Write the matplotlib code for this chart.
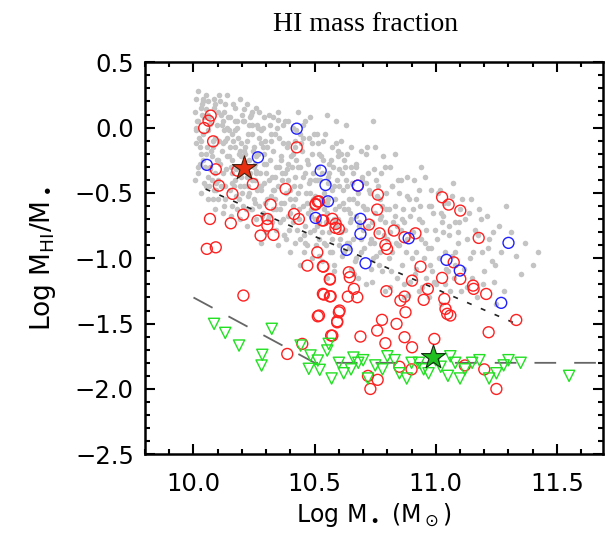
import matplotlib
matplotlib.use("Agg")
import matplotlib.pyplot as plt
from matplotlib.ticker import MultipleLocator

# -------------------------------
# Data
# -------------------------------
gray_x = [10.01, 10.03, 10.02, 10.04, 10.01, 10.05, 10.06, 10.03, 10.07, 10.02, 10.05, 10.08, 10.06, 10.09, 10.08, 10.04, 10.10, 10.09, 10.07, 10.10, 10.03, 10.06, 10.09, 10.02,
          10.11, 10.12, 10.13, 10.14, 10.12, 10.15, 10.16, 10.17, 10.18, 10.19, 10.15, 10.13, 10.17, 10.19, 10.11, 10.16, 10.18, 10.14, 10.20, 10.20, 10.12, 10.17, 10.19, 10.16,
          10.21, 10.22, 10.23, 10.24, 10.25, 10.26, 10.27, 10.28, 10.29, 10.22, 10.24, 10.26, 10.28, 10.30, 10.21, 10.23, 10.25, 10.27, 10.29, 10.30, 10.22, 10.26, 10.28, 10.24,
          10.31, 10.32, 10.33, 10.34, 10.35, 10.36, 10.37, 10.38, 10.39, 10.31, 10.33, 10.35, 10.37, 10.39, 10.32, 10.34, 10.36, 10.38, 10.40, 10.40, 10.35, 10.33, 10.37, 10.39,
          10.41, 10.42, 10.43, 10.44, 10.45, 10.46, 10.47, 10.48, 10.49, 10.42, 10.44, 10.46, 10.48, 10.50, 10.43, 10.45, 10.47, 10.49, 10.41, 10.50, 10.46, 10.44, 10.48, 10.42,
          10.51, 10.52, 10.53, 10.54, 10.55, 10.56, 10.57, 10.58, 10.59, 10.52, 10.54, 10.56, 10.58, 10.60, 10.51, 10.53, 10.55, 10.57, 10.59, 10.60, 10.55,
          10.61, 10.62, 10.63, 10.64, 10.65, 10.66, 10.67, 10.68, 10.69, 10.62, 10.64, 10.66, 10.68, 10.70, 10.61, 10.63, 10.65, 10.67, 10.69, 10.70,
          10.71, 10.72, 10.73, 10.74, 10.75, 10.76, 10.77, 10.78, 10.79, 10.72, 10.74, 10.76, 10.78, 10.80, 10.71, 10.73, 10.75, 10.79, 10.77,
          10.81, 10.82, 10.83, 10.84, 10.85, 10.86, 10.87, 10.88, 10.89, 10.82, 10.84, 10.86, 10.88, 10.90, 10.83, 10.87, 10.85,
          10.91, 10.92, 10.93, 10.94, 10.95, 10.96, 10.97, 10.98, 10.99, 10.92, 10.94, 10.96, 10.98, 11.00, 10.93, 10.97,
          11.01, 11.02, 11.03, 11.04, 11.05, 11.06, 11.07, 11.08, 11.09, 11.02, 11.05, 11.08, 11.10, 11.04,
          11.11, 11.12, 11.13, 11.14, 11.15, 11.16, 11.17, 11.18, 11.19, 11.13, 11.20,
          11.21, 11.22, 11.23, 11.24, 11.26, 11.27, 11.28, 11.29, 11.25,
          11.31, 11.33, 11.35, 11.37, 11.40, 11.42,
          10.015, 10.025, 10.035, 10.045, 10.055, 10.065, 10.075, 10.085, 10.095, 10.105, 10.115, 10.125, 10.135, 10.145, 10.155, 10.165, 10.175, 10.185, 10.195, 10.205,
          10.018, 10.038, 10.058, 10.078, 10.098, 10.118, 10.138, 10.158, 10.178, 10.198, 10.012, 10.032, 10.052, 10.072, 10.092, 10.112, 10.132, 10.152, 10.172, 10.192,
          10.215, 10.225, 10.235, 10.245, 10.255, 10.265, 10.275, 10.285, 10.295, 10.305, 10.315, 10.325, 10.335, 10.345, 10.355, 10.365, 10.375, 10.385, 10.395, 10.405,
          10.212, 10.232, 10.252, 10.272, 10.292, 10.312, 10.332, 10.352, 10.372, 10.392, 10.218, 10.238, 10.258, 10.278, 10.298, 10.318, 10.338, 10.358, 10.378, 10.398,
          10.415, 10.425, 10.435, 10.445, 10.455, 10.465, 10.475, 10.485, 10.495, 10.505, 10.515, 10.525, 10.535, 10.545, 10.555, 10.565, 10.575, 10.585, 10.595, 10.605,
          10.412, 10.432, 10.452, 10.472, 10.492, 10.512, 10.532, 10.552, 10.572, 10.592, 10.418, 10.438, 10.458, 10.478, 10.498, 10.518, 10.538, 10.558, 10.578, 10.598,
          10.615, 10.625, 10.635, 10.645, 10.655, 10.665, 10.675, 10.685, 10.695, 10.705, 10.715, 10.725, 10.735, 10.745, 10.755, 10.765, 10.775, 10.785, 10.795, 10.805,
          10.815, 10.825, 10.835, 10.845, 10.612, 10.632, 10.652, 10.672, 10.692, 10.712, 10.732, 10.752, 10.772, 10.792, 10.812,
          10.855, 10.875, 10.895, 10.915, 10.935, 10.955, 10.975, 10.995, 11.015, 11.035, 11.055, 11.075, 11.095, 11.115, 11.135, 11.155, 11.175, 11.195, 11.215, 11.235,
          10.865, 10.905, 10.945, 10.985, 11.025, 11.065, 11.105, 11.145, 11.185, 11.245,
          10.008, 10.022, 10.041, 10.053, 10.067, 10.083, 10.094, 10.107, 10.121, 10.128, 10.142, 10.153, 10.169, 10.181, 10.196, 10.207, 10.219, 10.227, 10.241, 10.253, 10.262, 10.277, 10.286, 10.297,
          10.006, 10.027, 10.044, 10.061, 10.079, 10.088, 10.103, 10.116, 10.131, 10.147, 10.162, 10.174, 10.187, 10.203, 10.214, 10.229, 10.243, 10.256, 10.268, 10.281, 10.293,
          10.011, 10.034, 10.049, 10.063, 10.086, 10.101, 10.124, 10.139, 10.157, 10.171, 10.189, 10.208, 10.223, 10.236, 10.249, 10.263, 10.274, 10.288,
          10.303, 10.317, 10.328, 10.341, 10.353, 10.366, 10.379, 10.391, 10.404, 10.417, 10.428, 10.441, 10.453, 10.467, 10.479, 10.491, 10.503, 10.516, 10.527, 10.541,
          10.307, 10.322, 10.337, 10.348, 10.362, 10.374, 10.387, 10.399, 10.411, 10.423, 10.437, 10.449, 10.462, 10.474, 10.487, 10.499, 10.511, 10.523, 10.536, 10.548,
          10.556, 10.567, 10.579, 10.588, 10.601, 10.613, 10.624, 10.637, 10.649, 10.557, 10.571, 10.583, 10.596, 10.609, 10.621, 10.634, 10.646, 10.602, 10.618, 10.642,
          10.658, 10.669, 10.681, 10.694, 10.706, 10.718, 10.731, 10.743, 10.756, 10.768, 10.781, 10.793, 10.806, 10.818, 10.831, 10.843, 10.856, 10.868, 10.881, 10.893,
          10.906, 10.918, 10.931, 10.943, 10.956, 10.968, 10.981, 10.993, 11.006, 11.018, 11.031, 11.043, 11.056, 11.068, 11.081, 11.093, 10.662, 10.737, 10.812, 10.887]
gray_y = [0.22, 0.15, 0.05, -0.05, -0.12, 0.25, 0.10, -0.20, -0.30, -0.35, -0.45, -0.55, -0.02, 0.18, -0.15, -0.25, -0.40, -0.62, 0.03, 0.12, -0.50, -0.38, -0.08, 0.28,
          0.20, 0.05, -0.10, -0.22, -0.35, -0.48, -0.60, 0.15, 0.00, -0.18, 0.08, -0.55, -0.40, -0.70, -0.28, -0.05, -0.30, 0.25, 0.10, -0.50, -0.65, -0.15, 0.22, -0.25,
          0.05, -0.10, -0.25, -0.40, -0.55, -0.70, 0.12, -0.02, -0.20, 0.18, -0.62, -0.33, -0.48, -0.80, -0.45, 0.02, -0.15, -0.60, 0.08, -0.35, -0.75, 0.15, -0.88, -0.05,
          0.10, -0.05, -0.18, -0.30, -0.45, -0.58, -0.70, -0.85, 0.05, -0.40, -0.62, 0.12, -0.12, -0.28, -0.52, -0.78, -0.22, -0.50, -0.65, -0.95, -0.90, 0.08, 0.02, -0.40,
          0.00, -0.15, -0.30, -0.45, -0.60, -0.75, -0.90, 0.08, -0.20, -0.55, -0.85, -0.35, -0.50, -0.70, 0.12, -0.08, -0.25, -1.00, -0.72, -0.40, 0.05, -1.05, -0.80, -0.38,
          -0.05, -0.20, -0.35, -0.50, -0.65, -0.80, -0.95, -1.10, 0.05, -0.72, -0.88, -0.28, -0.45, -0.60, -0.40, -1.02, 0.10, -0.15, -0.75, -0.90, -1.15,
          -0.10, -0.25, -0.40, -0.55, -0.70, -0.85, -1.00, -1.15, -0.18, -0.62, -0.92, -0.35, -0.50, -0.78, -0.80, 0.02, -1.08, -0.30, -0.95, -0.60,
          -0.20, -0.35, -0.50, 0.05, -0.65, -0.80, -0.95, -1.10, -0.30, -0.75, -1.00, -0.45, -0.60, -0.85, -1.20, -0.88, -0.15, -1.25, -0.55,
          -0.30, -0.45, -0.60, -0.75, -0.90, -1.05, -1.20, -0.38, -0.55, -0.95, -1.15, -0.70, -0.85, -1.00, -0.20, -1.30, -0.50,
          -0.40, -0.55, -0.70, -0.85, -1.00, -1.15, -1.30, -0.48, -0.65, -1.08, -0.30, -0.78, -0.92, -1.20, -1.25, -0.60,
          -0.50, -0.65, -0.80, -0.95, -1.10, -1.25, -0.42, -0.72, -0.88, -1.35, -0.58, -1.05, -0.62, -1.20,
          -0.55, -0.70, -0.85, -1.00, -1.15, -0.78, -1.30, -0.62, -0.95, -1.22, -1.10,
          -0.68, -0.85, -1.02, -1.18, -0.75, -0.95, -1.25, -0.60, -1.35,
          -0.80, -0.98, -1.12, -0.88, -1.05, -0.95,
          0.05, -0.28, 0.18, -0.42, -0.15, 0.08, -0.22, -0.48, 0.02, -0.10, -0.45, 0.12, -0.32, -0.02, -0.68, 0.18, -0.52, -0.08, -0.38, -0.60,
          -0.30, 0.20, -0.55, -0.40, -0.25, -0.18, 0.00, -0.35, -0.62, -0.12, -0.02, -0.10, 0.14, -0.18, -0.48, 0.10, -0.45, -0.15, 0.05, -0.45,
          -0.30, -0.52, 0.08, -0.18, -0.40, 0.00, -0.35, -0.65, -0.10, -0.55, -0.25, -0.72, -0.38, 0.00, -0.62, -0.40, -0.58, -0.15, -0.78, -0.30,
          -0.15, -0.35, -0.58, -0.08, -0.42, -0.68, -0.48, -0.30, -0.82, -0.12, -0.62, 0.10, -0.22, -0.45, -0.28, -0.10, -0.05, -0.72, -0.35, -0.55,
          -0.45, -0.25, -0.62, -0.12, -0.82, -0.50, -0.08, -0.68, -0.35, -0.90, -0.12, -0.55, -0.25, -0.72, -0.42, -0.95, -0.30, -0.62, -0.18, -0.85,
          -0.20, -0.50, -0.38, -0.65, -0.55, -0.30, -0.80, -0.58, -0.48, -0.40, -0.88, -0.05, -0.95, -0.42, -0.78, -0.98, -0.62, -0.35, -1.05, -0.22,
          -0.48, -0.78, -0.20, -0.65, -0.42, -1.02, -0.58, -0.75, -0.38, -0.92, -0.62, -0.48, -0.72, -0.88, -0.40, -1.05, -0.68, -0.82, -0.50, -0.62,
          -1.10, -0.72, -0.88, -0.40, -0.35, -0.88, -0.30, -0.68, -0.85, -0.42, -1.08, -0.98, -0.35, -0.72, -0.80,
          -0.78, -0.95, -0.68, -1.12, -0.60, -0.88, -1.05, -0.78, -1.00, -0.58, -0.82, -1.15, -0.72, -1.08, -0.65, -0.95, -0.82, -1.20, -0.92, -0.80,
          -0.62, -0.80, -1.22, -1.10, -0.72, -0.98, -1.25, -0.55, -0.70, -1.05,
          0.12, -0.08, 0.22, -0.20, -0.32, 0.15, -0.42, 0.25, -0.12, -0.02, 0.08, -0.30, -0.45, 0.05, -0.22, 0.14, -0.38, -0.05, 0.02, -0.28, -0.48, -0.12, 0.00, -0.58,
          -0.40, -0.15, 0.08, 0.20, -0.10, -0.35, -0.55, 0.02, 0.18, -0.22, -0.10, -0.32, -0.55, 0.05, -0.20, -0.50, 0.12, -0.35, -0.20, -0.68, -0.28,
          0.00, 0.10, -0.30, -0.45, 0.22, -0.25, -0.60, -0.08, -0.42, -0.02, -0.20, -0.18, -0.45, -0.62, -0.30, 0.02, -0.45, -0.15,
          -0.15, 0.02, -0.48, -0.62, -0.08, -0.35, 0.05, -0.68, -0.22, -0.10, -0.78, -0.30, 0.02, -0.58, -0.40, -0.12, -0.52, -0.85, -0.22, -0.05,
          -0.70, -0.38, -0.55, 0.06, -0.25, -0.82, -0.32, -0.48, -0.60, -0.02, -0.70, -0.18, -0.88, -0.28, -0.62, -0.05, -0.75, -0.40, -0.10, -0.90,
          -0.55, -0.25, -0.70, -0.12, -0.45, -0.98, -0.30, -0.62, -0.15, -0.38, -0.85, -0.55, -0.70, -0.20, -0.95, -0.45, -0.72, -0.32, -0.58, -0.88,
          -0.55, -0.28, -0.72, -0.40, -0.62, -0.15, -0.85, -0.32, -0.52, -0.70, -0.22, -0.62, -1.00, -0.45, -0.68, -0.90, -0.40, -0.72, -0.52, -1.18,
          -0.62, -0.95, -0.48, -0.72, -0.38, -0.92, -0.60, -1.18, -0.85, -0.48, -0.68, -1.08, -0.75, -0.52, -0.95, -0.80, -1.12, -1.18, -1.22, -1.28]

red_x = [10.071, 10.062, 10.044, 10.081, 10.092, 10.105, 10.161, 10.181, 10.245, 10.318, 10.380, 10.426, 10.415, 10.435,
         10.504, 10.513, 10.531, 10.587, 10.068, 10.154, 10.205, 10.264, 10.305, 10.305, 10.277, 10.330, 10.055, 10.092,
         10.511, 10.470, 10.534, 10.563, 10.206, 10.534, 10.563, 10.513, 10.603, 10.593, 10.573, 10.449, 10.387,
         10.678, 10.761, 10.758, 10.504, 10.518, 10.536, 10.573, 10.586, 10.600, 10.724, 10.768, 10.792, 10.799, 10.827,
         10.871, 10.916, 11.026, 11.053, 11.101, 11.177, 11.074, 10.536, 10.563, 10.641, 10.645, 10.662, 10.538,
         10.566, 10.637, 10.676, 10.796, 10.854, 10.871, 10.902, 10.937, 10.967, 10.950, 10.875, 11.026, 11.035,
         11.040, 11.047, 11.060, 11.101, 11.154, 11.156, 11.208, 11.332, 11.218, 10.518, 10.600, 10.593, 10.778,
         10.758, 10.838, 10.568, 10.689, 10.871, 10.792, 10.994, 10.902,
         10.72, 10.73, 10.76, 10.85, 10.90, 11.12, 11.20, 11.25]
red_y = [0.092, 0.053, -0.003, -0.105, -0.319, -0.444, -0.507, -0.329, -0.431, -0.589, -0.469, -0.151, -0.661, -0.699,
         -0.589, -0.566, -0.710, -0.737, -0.699, -0.732, -0.666, -0.712, -0.699, -0.750, -0.826, -0.821, -0.928, -0.916,
         -0.954, -1.056, -1.061, -1.163, -1.285, -1.272, -1.291, -1.444, -1.400, -1.482, -1.592, -1.655, -1.732,
         -0.444, -0.513, -0.627, -0.584, -0.564, -0.711, -0.698, -0.767, -0.775, -0.742, -0.809, -0.898, -0.928, -0.788,
         -0.839, -0.809, -0.533, -0.589, -0.635, -0.844, -1.031, -1.064, -1.158, -1.107, -1.145, -1.234, -1.278,
         -1.291, -1.293, -1.298, -1.252, -1.324, -1.293, -1.171, -1.064, -1.234, -1.318, -1.413, -1.150, -1.311,
         -1.387, -1.425, -1.438, -1.158, -1.209, -1.234, -1.273, -1.472, -1.566, -1.438, -1.413, -1.490, -1.471,
         -1.553, -1.502, -1.591, -1.599, -1.604, -1.650, -1.617, -1.681,
         -1.90, -2.00, -1.93, -1.83, -1.85, -1.82, -1.85, -2.00]

blue_x = [10.055, 10.266, 10.426, 10.525, 10.545, 10.555, 10.504, 10.678, 10.689, 10.689, 10.632, 10.710, 10.888, 11.044, 11.099, 11.300, 11.270]
blue_y = [-0.285, -0.227, -0.008, -0.329, -0.439, -0.564, -0.691, -0.444, -0.698, -0.813, -0.936, -1.038, -0.847, -1.012, -1.094, -0.882, -1.341]

green_x = [10.085, 10.131, 10.188, 10.323, 10.284, 10.281, 10.442, 10.483, 10.476, 10.513, 10.521, 10.552, 10.558,
           10.60, 10.65, 10.70, 10.75, 10.80, 10.85, 10.90, 10.95, 11.00, 11.05, 11.08, 11.12, 11.18, 11.22, 11.28, 11.35, 11.55,
           10.62, 10.68, 10.72, 10.78, 10.83, 10.88, 10.93, 10.97, 11.02, 11.06, 11.10, 11.15, 11.25, 11.30, 10.57, 10.66]
green_y = [-1.502, -1.571, -1.668, -1.540, -1.739, -1.821, -1.668, -1.744, -1.846, -1.783, -1.854, -1.706, -1.655,
           -1.80, -1.85, -1.78, -1.82, -1.75, -1.88, -1.80, -1.85, -1.78, -1.90, -1.80, -1.85, -1.78, -1.92, -1.82, -1.80, -1.90,
           -1.88, -1.80, -1.92, -1.85, -1.78, -1.92, -1.80, -1.88, -1.83, -1.75, -1.92, -1.80, -1.88, -1.78, -1.92, -1.76]

red_star = (10.208, -0.308)
green_star = (10.987, -1.752)

# black dotted fit and grey dashed detection limit
fit_x = [10.05, 11.33]
fit_y = [-0.47, -1.50]
limit_x = [10.0, 10.5, 11.68]
limit_y = [-1.30, -1.80, -1.80]


def main():
    plt.rcParams["mathtext.fontset"] = "dejavusans"
    fig = plt.figure(figsize=(6.05, 5.44), dpi=100)
    ax = fig.add_axes([0.2397, 0.1649, 0.7570, 0.7206])

    ax.scatter(gray_x, gray_y, s=16, color="#c4c4c4", linewidths=0, zorder=1)
    ax.plot(fit_x, fit_y, color="#222222", lw=1.2, ls=(0, (3, 6)), zorder=2)
    ax.plot(limit_x, limit_y, color="#666666", lw=1.3, ls=(0, (12, 10)), zorder=2)
    ax.scatter(red_x, red_y, s=62, facecolors="none", edgecolors="#ff2020", linewidths=1.0, zorder=3)
    ax.scatter(blue_x, blue_y, s=62, facecolors="none", edgecolors="#2020ff", linewidths=1.0, zorder=4)
    ax.scatter(green_x, green_y, s=65, marker="v", facecolors="none", edgecolors="#22e022", linewidths=1.0, zorder=3)
    ax.scatter([red_star[0]], [red_star[1]], s=330, marker="*", color="#e83010", edgecolors="#402010", linewidths=0.8, zorder=5)
    ax.scatter([green_star[0]], [green_star[1]], s=330, marker="*", color="#20c020", edgecolors="#103010", linewidths=0.8, zorder=5)

    ax.set_xlim(9.8, 11.69)
    ax.set_ylim(-2.5, 0.5)
    ax.xaxis.set_major_locator(MultipleLocator(0.5))
    ax.xaxis.set_minor_locator(MultipleLocator(0.1))
    ax.yaxis.set_major_locator(MultipleLocator(0.5))
    ax.yaxis.set_minor_locator(MultipleLocator(0.1))
    ax.tick_params(which="both", direction="in", top=True, right=True, width=1.5, labelsize=17.5)
    ax.tick_params(which="major", length=7)
    ax.tick_params(which="minor", length=3.5)
    ax.tick_params(axis="x", which="major", pad=13)
    ax.tick_params(axis="y", which="major", pad=8)
    for sp in ax.spines.values():
        sp.set_linewidth(1.8)

    ax.set_xlabel(r"Log M$_\bullet$ (M$_\odot$)", fontsize=17, labelpad=3)
    ax.set_ylabel(r"Log M$_{\rm HI}$/M$_\bullet$", fontsize=19, labelpad=12)
    fig.text(0.605, 0.955, "HI mass fraction", ha="center", va="center",
             fontsize=20, family="Liberation Serif")

    fig.savefig("out.png", dpi=100)


if __name__ == "__main__":
    main()
